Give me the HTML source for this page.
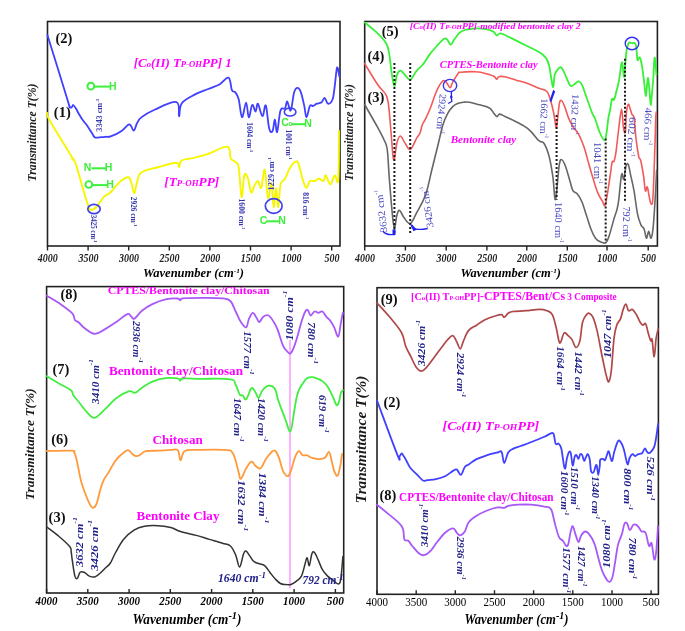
<!DOCTYPE html>
<html><head><meta charset="utf-8"><style>
html,body{margin:0;padding:0;background:#fff;width:685px;height:631px;overflow:hidden}
svg{display:block;filter:blur(0.5px)}
</style></head><body>
<svg width="685" height="631" viewBox="0 0 685 631">
<rect width="685" height="631" fill="#fff"/>
<rect x="47.5" y="21.5" width="292.5" height="224.5" fill="none" stroke="#222" stroke-width="1.6"/>
<path d="M47.5,246 v4.5 M88.1,246 v4.5 M128.7,246 v4.5 M169.3,246 v4.5 M209.9,246 v4.5 M250.5,246 v4.5 M291.1,246 v4.5 M331.7,246 v4.5" stroke="#222" stroke-width="1.4" fill="none"/>
<text x="47.8" y="261.6" font-family='"Liberation Serif", serif' font-size="11.5" font-weight="bold" font-style="italic" fill="#222" text-anchor="middle" textLength="20" lengthAdjust="spacingAndGlyphs">4000</text>
<text x="88.39999999999999" y="261.6" font-family='"Liberation Serif", serif' font-size="11.5" font-weight="bold" font-style="italic" fill="#222" text-anchor="middle" textLength="20" lengthAdjust="spacingAndGlyphs">3500</text>
<text x="129.0" y="261.6" font-family='"Liberation Serif", serif' font-size="11.5" font-weight="bold" font-style="italic" fill="#222" text-anchor="middle" textLength="20" lengthAdjust="spacingAndGlyphs">3000</text>
<text x="169.60000000000002" y="261.6" font-family='"Liberation Serif", serif' font-size="11.5" font-weight="bold" font-style="italic" fill="#222" text-anchor="middle" textLength="20" lengthAdjust="spacingAndGlyphs">2500</text>
<text x="210.20000000000002" y="261.6" font-family='"Liberation Serif", serif' font-size="11.5" font-weight="bold" font-style="italic" fill="#222" text-anchor="middle" textLength="20" lengthAdjust="spacingAndGlyphs">2000</text>
<text x="250.8" y="261.6" font-family='"Liberation Serif", serif' font-size="11.5" font-weight="bold" font-style="italic" fill="#222" text-anchor="middle" textLength="20" lengthAdjust="spacingAndGlyphs">1500</text>
<text x="291.40000000000003" y="261.6" font-family='"Liberation Serif", serif' font-size="11.5" font-weight="bold" font-style="italic" fill="#222" text-anchor="middle" textLength="20" lengthAdjust="spacingAndGlyphs">1000</text>
<text x="332.0" y="261.6" font-family='"Liberation Serif", serif' font-size="11.5" font-weight="bold" font-style="italic" fill="#222" text-anchor="middle" textLength="15" lengthAdjust="spacingAndGlyphs">500</text>
<text x="193.5" y="276.5" font-family='"Liberation Serif", serif' font-size="12" font-weight="bold" font-style="italic" fill="#000" text-anchor="middle" textLength="101" lengthAdjust="spacingAndGlyphs">Wavenumber (cm<tspan font-size="7" dy="-4">-1</tspan><tspan dy="4">)</tspan></text>
<text transform="translate(32,132.5) rotate(-90)" x="0" y="0" dominant-baseline="central" text-anchor="middle" font-family='"Liberation Serif", serif' font-size="12" font-weight="bold" font-style="italic" fill="#222" textLength="98" lengthAdjust="spacingAndGlyphs">Transmittance T(%)</text>
<path d="M47.4,35.0 C51.1,46.8 63.8,87.7 67.7,100.5 C71.6,113.3 68.6,104.7 69.3,106.0 C70.0,107.3 70.9,107.8 71.6,107.6 C72.3,107.4 72.4,104.8 73.2,105.0 C74.0,105.2 75.0,107.0 76.0,108.6 C77.0,110.2 77.6,111.7 78.8,113.8 C80.0,115.9 81.3,118.1 82.7,120.1 C84.1,122.1 85.0,122.5 86.7,124.9 C88.4,127.3 90.8,131.4 92.2,133.6 C93.6,135.8 93.6,136.5 94.6,137.2 C95.6,137.9 95.9,137.7 97.8,137.6 C99.7,137.5 102.7,137.0 105.0,136.8 C107.3,136.6 107.7,137.4 110.7,136.4 C113.7,135.4 118.3,133.2 121.6,131.0 C124.9,128.8 127.1,124.5 129.3,124.4 C131.5,124.3 132.3,130.7 133.7,130.5 C135.1,130.3 135.6,125.7 137.0,123.3 C138.4,120.9 138.2,119.8 141.3,117.4 C144.5,115.0 148.2,112.6 154.5,109.8 C160.8,107.0 172.0,100.9 176.4,102.1 C180.8,103.3 178.0,116.1 179.0,116.3 C180.0,116.5 178.9,107.1 181.8,103.2 C184.7,99.3 190.3,97.0 195.0,94.4 C199.7,91.8 203.7,90.8 208.1,89.0 C212.5,87.2 215.7,86.5 219.4,84.5 C223.1,82.5 226.2,76.7 228.5,77.7 C230.8,78.7 230.7,87.6 231.9,90.2 C233.1,92.8 234.1,90.8 235.3,92.4 C236.5,94.0 237.5,94.7 238.7,99.2 C239.9,103.7 240.7,116.7 242.0,117.3 C243.3,117.9 244.9,102.6 246.1,102.6 C247.3,102.6 247.7,116.9 248.8,117.3 C249.9,117.7 251.0,105.9 252.2,104.9 C253.4,103.9 254.6,111.8 255.6,111.6 C256.6,111.4 256.7,102.9 257.9,103.7 C259.1,104.5 261.0,115.9 262.4,116.2 C263.8,116.5 264.6,103.3 265.8,105.5 C267.0,107.7 268.0,124.0 269.2,128.6 C270.4,133.2 271.6,132.5 272.6,130.9 C273.6,129.3 274.1,119.4 274.9,119.6 C275.7,119.8 276.1,133.6 277.1,132.0 C278.1,130.4 279.1,114.8 280.5,110.5 C281.9,106.2 283.8,109.9 285.0,108.3 C286.2,106.7 286.3,101.1 287.3,101.5 C288.3,101.9 289.5,112.1 290.7,110.5 C291.9,108.9 292.9,96.5 294.1,92.4 C295.3,88.3 296.3,87.9 297.5,87.9 C298.7,87.9 299.7,89.1 300.9,92.4 C302.1,95.7 303.3,101.5 304.3,106.0 C305.3,110.5 305.5,117.3 306.5,117.3 C307.5,117.3 308.7,108.0 309.9,106.0 C311.1,104.0 312.1,106.4 313.3,106.0 C314.5,105.6 315.3,104.3 316.7,103.7 C318.1,103.1 319.9,103.6 321.3,102.6 C322.7,101.6 323.4,97.8 324.6,98.0 C325.8,98.2 326.6,103.5 328.0,103.7 C329.4,103.9 331.4,102.5 332.6,99.2 C333.8,95.9 334.0,91.3 334.8,85.6 C335.6,79.9 336.3,69.1 337.1,67.5 C337.9,65.9 339.0,75.0 339.4,76.6" fill="none" stroke="#4040ff" stroke-width="1.8" stroke-linejoin="round" stroke-linecap="round"/>
<path d="M47.2,113.0 C47.6,114.3 45.1,112.2 49.4,120.0 C53.7,127.8 67.2,149.0 71.3,156.1 C75.4,163.2 71.6,158.0 72.4,159.4 C73.2,160.8 72.9,155.7 75.7,163.8 C78.5,171.9 84.7,196.0 87.7,204.3 C90.7,212.6 90.3,209.5 92.1,209.7 C93.9,209.9 95.4,207.8 97.6,205.4 C99.8,203.0 101.7,199.0 104.1,196.6 C106.5,194.2 107.9,194.8 110.7,192.2 C113.5,189.6 116.3,185.1 119.4,182.4 C122.5,179.7 126.0,177.1 128.2,177.3 C130.4,177.5 130.4,180.6 131.5,183.5 C132.6,186.4 133.3,193.5 134.3,193.3 C135.3,193.1 135.7,186.1 137.0,182.4 C138.3,178.7 137.4,175.3 141.3,172.5 C145.2,169.7 152.6,168.8 158.9,167.0 C165.2,165.2 172.8,162.7 176.4,162.7 C180.0,162.7 178.0,167.4 179.0,167.0 C180.0,166.6 178.9,162.2 181.8,160.5 C184.7,158.8 190.3,158.8 195.0,157.6 C199.7,156.4 202.3,155.9 208.1,153.9 C213.9,151.9 223.2,145.9 227.3,146.7 C231.4,147.5 229.3,155.7 230.7,158.4 C232.1,161.1 233.9,160.2 235.3,161.8 C236.7,163.4 237.6,161.2 238.7,167.5 C239.8,173.8 240.6,195.5 241.6,196.9 C242.6,198.3 243.2,178.9 244.3,175.4 C245.4,171.9 246.5,174.7 247.7,177.7 C248.9,180.7 249.9,190.9 251.1,192.3 C252.3,193.7 253.3,187.6 254.5,185.6 C255.7,183.6 256.7,180.6 257.9,181.0 C259.1,181.4 260.1,189.8 261.3,187.8 C262.5,185.8 263.5,167.9 264.7,169.7 C265.9,171.5 266.9,195.6 268.1,198.0 C269.3,200.4 270.5,181.7 271.5,183.3 C272.5,184.9 272.9,206.2 273.7,207.0 C274.5,207.8 275.2,187.8 276.0,187.8 C276.8,187.8 277.5,207.6 278.3,207.0 C279.1,206.4 279.3,189.5 280.5,184.4 C281.7,179.3 283.4,181.6 285.0,178.8 C286.6,176.0 287.8,171.7 289.6,168.6 C291.4,165.5 293.6,162.6 295.2,161.8 C296.8,161.0 297.2,160.6 298.6,164.1 C300.0,167.6 301.7,176.7 303.1,181.0 C304.5,185.3 305.3,187.8 306.5,187.8 C307.7,187.8 308.5,182.2 309.9,181.0 C311.3,179.8 312.9,181.4 314.5,181.0 C316.1,180.6 317.4,178.8 319.0,178.8 C320.6,178.8 322.3,181.6 323.5,181.0 C324.7,180.4 324.6,174.8 325.8,175.4 C327.0,176.0 328.7,184.4 330.3,184.4 C331.9,184.4 333.4,176.2 334.8,175.4 C336.2,174.6 337.4,187.9 338.2,179.9 C339.0,171.9 338.9,139.8 339.0,131.0" fill="none" stroke="#f6f600" stroke-width="1.9" stroke-linejoin="round" stroke-linecap="round"/>
<text x="55.5" y="43" font-family='"Liberation Serif", serif' font-size="14.5" font-weight="bold" font-style="normal" fill="#111" text-anchor="start" >(2)</text>
<text x="53.8" y="117" font-family='"Liberation Serif", serif' font-size="14.5" font-weight="bold" font-style="normal" fill="#111" text-anchor="start" >(1)</text>
<text x="133.8" y="66.5" font-family='"Liberation Serif", serif' font-size="12" font-weight="bold" font-style="italic" fill="#ff00ff" text-anchor="start" textLength="98" lengthAdjust="spacingAndGlyphs">[C<tspan font-size="8">o</tspan>(II) T<tspan font-size="8">P-OH</tspan>PP] 1</text>
<text x="164.3" y="186" font-family='"Liberation Serif", serif' font-size="12" font-weight="bold" font-style="italic" fill="#ff00ff" text-anchor="start" textLength="55" lengthAdjust="spacingAndGlyphs">[T<tspan font-size="8">P-OH</tspan>PP]</text>
<circle cx="90.8" cy="86.2" r="3.4" fill="none" stroke="#3cf03c" stroke-width="1.9"/>
<line x1="94.3" y1="86.6" x2="109.8" y2="86.6" stroke="#3cf03c" stroke-width="2"/>
<text x="108.9" y="90" font-family='"Liberation Sans", sans-serif' font-size="10.5" font-weight="bold" fill="#3cf03c">H</text>
<text x="83.8" y="171.3" font-family='"Liberation Sans", sans-serif' font-size="10.5" font-weight="bold" fill="#3cf03c">N</text>
<line x1="91.5" y1="168.3" x2="105.8" y2="168.3" stroke="#3cf03c" stroke-width="2"/>
<text x="104.8" y="171.3" font-family='"Liberation Sans", sans-serif' font-size="10.5" font-weight="bold" fill="#3cf03c">H</text>
<circle cx="88.8" cy="184.5" r="3.4" fill="none" stroke="#3cf03c" stroke-width="1.9"/>
<line x1="92.3" y1="185.1" x2="107.5" y2="185.1" stroke="#3cf03c" stroke-width="2"/>
<text x="106.3" y="188.4" font-family='"Liberation Sans", sans-serif' font-size="10.5" font-weight="bold" fill="#3cf03c">H</text>
<text x="281.2" y="126.3" font-family='"Liberation Sans", sans-serif' font-size="10.5" font-weight="bold" fill="#3cf03c">C</text>
<text x="288.4" y="126" font-family='"Liberation Sans", sans-serif' font-size="6.5" font-weight="bold" fill="#3cf03c">o</text>
<line x1="291.5" y1="124.2" x2="305.3" y2="124.2" stroke="#3cf03c" stroke-width="2"/>
<text x="304.2" y="126.5" font-family='"Liberation Sans", sans-serif' font-size="10.5" font-weight="bold" fill="#3cf03c">N</text>
<text x="259.8" y="224.2" font-family='"Liberation Sans", sans-serif' font-size="10.5" font-weight="bold" fill="#3cf03c">C</text>
<line x1="266.2" y1="221.3" x2="279.2" y2="221.3" stroke="#3cf03c" stroke-width="2"/>
<text x="278.3" y="224" font-family='"Liberation Sans", sans-serif' font-size="10.5" font-weight="bold" fill="#3cf03c">N</text>
<ellipse cx="94" cy="209" rx="6.2" ry="4.6" fill="none" stroke="#4040f0" stroke-width="1.7"/>
<ellipse cx="290.1" cy="112" rx="5.8" ry="4" fill="none" stroke="#4040f0" stroke-width="1.6"/>
<ellipse cx="273.7" cy="206" rx="8.4" ry="7.4" fill="none" stroke="#4040f0" stroke-width="1.7"/>
<text transform="translate(99.2,115.2) rotate(-90)" x="0" y="0" dominant-baseline="central" text-anchor="middle" font-family='"Liberation Serif", serif' font-size="7.5" font-weight="bold" font-style="normal" fill="#3535b0" textLength="33" lengthAdjust="spacingAndGlyphs">3343 cm<tspan font-size="4.5" dy="-2.5">-1</tspan></text>
<text transform="translate(93.5,228.7) rotate(90)" x="0" y="0" dominant-baseline="central" text-anchor="middle" font-family='"Liberation Serif", serif' font-size="7.5" font-weight="bold" font-style="normal" fill="#3535b0" textLength="28" lengthAdjust="spacingAndGlyphs">3425 cm<tspan font-size="4.5" dy="-2.5">-1</tspan></text>
<text transform="translate(133.9,211.6) rotate(90)" x="0" y="0" dominant-baseline="central" text-anchor="middle" font-family='"Liberation Serif", serif' font-size="7.5" font-weight="bold" font-style="normal" fill="#3535b0" textLength="29.7" lengthAdjust="spacingAndGlyphs">2926 cm<tspan font-size="4.5" dy="-2.5">-1</tspan></text>
<text transform="translate(249.6,137.3) rotate(90)" x="0" y="0" dominant-baseline="central" text-anchor="middle" font-family='"Liberation Serif", serif' font-size="7.5" font-weight="bold" font-style="normal" fill="#3535b0" textLength="30" lengthAdjust="spacingAndGlyphs">1604 cm<tspan font-size="4.5" dy="-2.5">-1</tspan></text>
<text transform="translate(241.8,214) rotate(90)" x="0" y="0" dominant-baseline="central" text-anchor="middle" font-family='"Liberation Serif", serif' font-size="7.5" font-weight="bold" font-style="normal" fill="#3535b0" textLength="31" lengthAdjust="spacingAndGlyphs">1600 cm<tspan font-size="4.5" dy="-2.5">-1</tspan></text>
<text transform="translate(271.2,173.9) rotate(-90)" x="0" y="0" dominant-baseline="central" text-anchor="middle" font-family='"Liberation Serif", serif' font-size="7.5" font-weight="bold" font-style="normal" fill="#3535b0" textLength="33" lengthAdjust="spacingAndGlyphs">1229 cm<tspan font-size="4.5" dy="-2.5">-1</tspan></text>
<text transform="translate(288.2,144.5) rotate(90)" x="0" y="0" dominant-baseline="central" text-anchor="middle" font-family='"Liberation Serif", serif' font-size="7.5" font-weight="bold" font-style="normal" fill="#3535b0" textLength="30" lengthAdjust="spacingAndGlyphs">1001 cm<tspan font-size="4.5" dy="-2.5">-1</tspan></text>
<text transform="translate(305.6,205.7) rotate(90)" x="0" y="0" dominant-baseline="central" text-anchor="middle" font-family='"Liberation Serif", serif' font-size="7.5" font-weight="bold" font-style="normal" fill="#3535b0" textLength="27" lengthAdjust="spacingAndGlyphs">816 cm<tspan font-size="4.5" dy="-2.5">-1</tspan></text>
<rect x="364.7" y="21.5" width="292.7" height="224.5" fill="none" stroke="#222" stroke-width="1.6"/>
<path d="M364.7,246 v4.5 M405.4,246 v4.5 M446.2,246 v4.5 M486.9,246 v4.5 M526.8,246 v4.5 M567.3,246 v4.5 M607.0,246 v4.5 M648.2,246 v4.5" stroke="#222" stroke-width="1.4" fill="none"/>
<text x="365.0" y="261.6" font-family='"Liberation Serif", serif' font-size="11.5" font-weight="bold" font-style="italic" fill="#222" text-anchor="middle" textLength="20" lengthAdjust="spacingAndGlyphs">4000</text>
<text x="405.7" y="261.6" font-family='"Liberation Serif", serif' font-size="11.5" font-weight="bold" font-style="italic" fill="#222" text-anchor="middle" textLength="20" lengthAdjust="spacingAndGlyphs">3500</text>
<text x="446.5" y="261.6" font-family='"Liberation Serif", serif' font-size="11.5" font-weight="bold" font-style="italic" fill="#222" text-anchor="middle" textLength="20" lengthAdjust="spacingAndGlyphs">3000</text>
<text x="487.2" y="261.6" font-family='"Liberation Serif", serif' font-size="11.5" font-weight="bold" font-style="italic" fill="#222" text-anchor="middle" textLength="20" lengthAdjust="spacingAndGlyphs">2500</text>
<text x="527.0999999999999" y="261.6" font-family='"Liberation Serif", serif' font-size="11.5" font-weight="bold" font-style="italic" fill="#222" text-anchor="middle" textLength="20" lengthAdjust="spacingAndGlyphs">2000</text>
<text x="567.5999999999999" y="261.6" font-family='"Liberation Serif", serif' font-size="11.5" font-weight="bold" font-style="italic" fill="#222" text-anchor="middle" textLength="20" lengthAdjust="spacingAndGlyphs">1500</text>
<text x="607.3" y="261.6" font-family='"Liberation Serif", serif' font-size="11.5" font-weight="bold" font-style="italic" fill="#222" text-anchor="middle" textLength="20" lengthAdjust="spacingAndGlyphs">1000</text>
<text x="648.5" y="261.6" font-family='"Liberation Serif", serif' font-size="11.5" font-weight="bold" font-style="italic" fill="#222" text-anchor="middle" textLength="15" lengthAdjust="spacingAndGlyphs">500</text>
<text x="510.7" y="277" font-family='"Liberation Serif", serif' font-size="12" font-weight="bold" font-style="italic" fill="#000" text-anchor="middle" textLength="100.6" lengthAdjust="spacingAndGlyphs">Wavenumber (cm<tspan font-size="7" dy="-4">-1</tspan><tspan dy="4">)</tspan></text>
<text transform="translate(349.2,132.6) rotate(-90)" x="0" y="0" dominant-baseline="central" text-anchor="middle" font-family='"Liberation Serif", serif' font-size="12" font-weight="bold" font-style="italic" fill="#222" textLength="97" lengthAdjust="spacingAndGlyphs">Transmittance T(%)</text>
<path d="M364.6,104.5 C367.0,108.7 374.3,121.2 377.8,127.6 C381.3,134.0 382.5,136.2 384.2,140.2 C385.9,144.2 386.4,142.9 387.3,150.0 C388.2,157.1 388.5,168.4 389.4,179.7 C390.3,191.0 391.3,203.9 392.2,212.6 C393.1,221.3 393.5,227.5 394.4,227.9 C395.3,228.3 396.0,218.0 397.0,214.8 C398.0,211.7 398.5,210.0 399.7,210.4 C400.9,210.8 401.7,214.6 403.6,217.0 C405.5,219.4 407.8,224.3 410.2,223.5 C412.6,222.7 413.9,217.7 416.7,212.6 C419.5,207.5 422.7,202.9 425.5,195.0 C428.3,187.1 429.7,178.2 432.1,168.8 C434.5,159.4 436.7,150.3 438.6,142.5 C440.5,134.7 441.2,130.5 442.7,125.4 C444.2,120.3 445.4,117.7 447.2,114.3 C449.0,110.9 450.7,108.6 452.7,106.6 C454.7,104.6 456.3,104.1 458.3,103.3 C460.3,102.5 461.8,102.4 463.8,102.2 C465.8,102.0 466.7,101.8 469.3,102.2 C471.9,102.6 474.5,103.5 478.0,104.5 C481.5,105.5 486.0,106.1 489.0,107.8 C492.0,109.5 493.1,112.5 494.5,114.1 C495.9,115.7 496.1,116.6 497.0,116.6 C497.9,116.6 498.2,114.1 499.6,114.1 C501.0,114.1 502.0,115.1 505.0,116.5 C508.0,117.9 511.7,119.4 516.0,121.7 C520.3,124.0 524.6,125.9 528.7,129.3 C532.8,132.7 536.2,138.2 538.9,140.7 C541.6,143.2 542.1,140.5 543.9,143.2 C545.7,145.9 547.4,150.0 549.0,155.9 C550.6,161.8 551.6,168.4 552.8,176.2 C554.0,184.0 554.4,201.3 555.5,199.5 C556.6,197.7 558.0,173.2 559.1,166.0 C560.2,158.8 560.6,159.7 561.7,159.7 C562.8,159.7 563.9,162.1 565.4,166.0 C566.9,169.9 568.6,176.8 570.0,181.2 C571.4,185.6 571.6,188.4 572.9,190.7 C574.2,193.0 575.8,192.1 577.4,194.1 C579.0,196.1 580.4,198.1 582.0,202.0 C583.6,205.9 584.9,210.7 586.5,215.6 C588.1,220.5 589.4,225.1 591.0,229.2 C592.6,233.3 593.9,236.0 595.5,238.2 C597.1,240.4 598.2,240.8 600.0,241.6 C601.8,242.4 604.1,243.8 605.7,242.8 C607.3,241.8 607.7,240.1 609.1,236.0 C610.5,231.9 612.0,225.8 613.6,220.1 C615.2,214.4 616.7,212.5 618.1,204.3 C619.5,196.1 620.5,179.3 621.5,174.8 C622.5,170.3 623.0,180.9 623.8,179.3 C624.6,177.7 625.3,168.4 626.1,165.8 C626.9,163.2 627.5,163.0 628.3,164.6 C629.1,166.2 629.6,170.1 630.6,174.8 C631.6,179.5 632.8,183.8 634.0,190.7 C635.2,197.6 636.2,207.2 637.4,213.3 C638.6,219.4 639.6,221.7 640.8,224.6 C642.0,227.5 643.2,226.8 644.2,229.2 C645.2,231.6 645.6,237.8 646.4,238.2 C647.2,238.6 647.9,231.4 648.7,231.4 C649.5,231.4 650.2,239.0 651.0,238.2 C651.8,237.4 652.4,235.1 653.2,226.9 C654.0,218.7 654.9,203.1 655.5,192.9 C656.1,182.7 656.4,174.4 656.6,170.3" fill="none" stroke="#666" stroke-width="1.6" stroke-linejoin="round" stroke-linecap="round"/>
<path d="M364.6,63.5 C367.0,67.3 374.0,79.3 377.8,84.8 C381.6,90.3 383.8,91.2 385.7,94.3 C387.6,97.4 387.4,98.2 388.1,102.2 C388.8,106.2 389.1,110.5 389.7,116.5 C390.3,122.5 390.6,127.7 391.3,135.5 C392.0,143.3 392.7,158.7 393.7,160.0 C394.7,161.3 395.8,146.8 397.0,142.5 C398.2,138.2 398.9,136.0 400.3,136.0 C401.7,136.0 402.9,140.1 404.7,142.5 C406.5,144.9 408.0,150.3 410.2,149.5 C412.4,148.7 414.9,141.1 416.7,138.1 C418.5,135.1 419.0,135.4 420.0,133.0 C421.0,130.6 421.3,127.4 422.2,125.0 C423.1,122.6 423.5,123.0 425.0,119.9 C426.5,116.8 428.5,112.7 430.5,107.7 C432.5,102.7 434.1,96.8 436.1,92.2 C438.1,87.6 439.9,84.2 441.6,82.2 C443.3,80.2 444.0,80.1 445.5,81.1 C447.0,82.1 448.7,87.5 450.0,87.7 C451.3,87.9 451.2,84.8 452.7,82.2 C454.2,79.6 456.9,75.1 458.3,73.3 C459.7,71.5 457.5,72.5 460.5,72.2 C463.5,71.9 471.1,71.6 475.0,71.7 C478.9,71.8 479.1,71.9 482.4,72.7 C485.7,73.5 490.8,74.8 493.4,76.0 C496.0,77.2 495.7,79.2 496.7,79.3 C497.7,79.4 497.3,77.2 498.8,76.7 C500.3,76.2 501.9,76.2 505.0,76.8 C508.1,77.4 512.2,79.0 516.3,80.2 C520.4,81.4 523.5,82.2 527.6,83.6 C531.7,85.0 535.5,86.8 539.0,88.2 C542.5,89.6 544.9,89.5 546.9,91.5 C548.9,93.5 549.1,95.6 550.3,99.5 C551.5,103.4 552.7,108.0 553.7,113.0 C554.7,118.0 555.4,124.9 556.0,127.0 C556.6,129.1 556.4,128.5 557.0,124.4 C557.6,120.3 558.5,108.3 559.3,104.0 C560.1,99.7 560.6,100.0 561.6,100.6 C562.6,101.2 563.8,104.3 565.0,107.4 C566.2,110.5 567.0,114.1 568.4,117.6 C569.8,121.1 571.7,124.5 572.9,126.6 C574.1,128.7 574.0,127.8 575.2,129.5 C576.4,131.2 578.1,133.0 579.7,136.3 C581.3,139.6 582.6,142.7 584.2,147.6 C585.8,152.5 587.1,157.8 588.7,163.5 C590.3,169.2 591.7,174.0 593.3,179.3 C594.9,184.6 596.2,189.0 597.8,192.9 C599.4,196.8 600.9,198.9 602.3,200.9 C603.7,202.9 604.1,208.6 605.5,204.0 C606.9,199.4 609.0,183.0 610.2,175.5 C611.4,168.0 611.4,164.8 612.1,162.2 C612.8,159.6 613.3,163.0 614.0,161.3 C614.7,159.6 615.0,158.7 615.9,152.7 C616.8,146.7 617.8,135.9 618.8,128.0 C619.8,120.1 620.8,109.0 621.6,109.0 C622.4,109.0 622.8,123.9 623.5,128.0 C624.2,132.1 624.9,134.5 625.4,131.8 C625.9,129.1 625.9,117.8 626.4,112.8 C626.9,107.8 627.6,105.0 628.3,104.3 C629.0,103.6 629.5,107.1 630.2,109.0 C630.9,110.9 631.4,113.2 632.1,114.7 C632.8,116.2 633.3,113.5 634.0,117.6 C634.7,121.7 635.1,130.5 635.9,137.5 C636.7,144.5 637.9,152.4 638.7,156.5 C639.5,160.6 639.7,156.9 640.6,160.3 C641.5,163.7 642.6,170.0 643.5,175.5 C644.4,181.0 644.7,188.7 645.4,190.8 C646.1,192.9 646.6,186.0 647.3,187.0 C648.0,188.0 648.5,193.4 649.2,196.5 C649.9,199.6 650.4,204.0 651.1,204.0 C651.8,204.0 652.3,206.8 653.0,196.5 C653.7,186.2 654.4,161.2 654.9,147.0 C655.4,132.8 655.5,123.9 655.8,117.6 C656.1,111.3 656.2,113.0 656.3,112.0" fill="none" stroke="#f25a5a" stroke-width="1.6" stroke-linejoin="round" stroke-linecap="round"/>
<path d="M364.6,22.4 C366.5,24.0 371.2,27.4 375.1,31.1 C379.0,34.8 383.5,38.9 386.1,43.2 C388.7,47.5 388.4,49.9 389.4,55.2 C390.4,60.5 390.7,67.2 391.6,72.7 C392.5,78.2 393.4,85.5 394.4,85.9 C395.4,86.3 395.9,77.7 397.0,74.9 C398.1,72.1 398.9,70.7 400.3,70.6 C401.7,70.5 402.9,72.9 404.7,74.5 C406.5,76.1 408.0,80.4 410.2,79.7 C412.4,79.0 414.3,73.4 416.7,70.6 C419.1,67.8 420.9,67.0 423.3,64.0 C425.7,61.0 427.5,57.2 429.9,54.1 C432.3,51.0 433.8,49.3 436.4,46.5 C439.0,43.7 442.1,40.0 444.1,38.8 C446.1,37.6 446.2,38.8 447.4,39.9 C448.6,41.0 449.5,44.7 450.7,44.7 C451.9,44.7 452.4,42.0 454.0,39.9 C455.6,37.8 457.4,34.7 459.4,32.9 C461.4,31.1 462.3,30.8 464.9,30.0 C467.5,29.2 470.2,28.7 473.7,28.5 C477.2,28.3 481.1,28.3 484.6,28.9 C488.1,29.5 491.2,30.4 493.4,31.6 C495.6,32.8 495.5,35.2 496.7,35.5 C497.9,35.8 498.5,33.4 500.0,33.3 C501.5,33.2 502.1,33.7 505.0,35.0 C507.9,36.3 512.2,38.6 516.3,40.6 C520.4,42.6 523.5,44.2 527.6,46.3 C531.7,48.4 535.7,50.0 539.0,52.0 C542.3,54.0 543.9,55.2 545.7,57.6 C547.5,60.0 548.1,61.6 549.1,65.5 C550.1,69.4 550.7,75.2 551.4,79.1 C552.1,83.0 552.6,87.8 553.2,87.0 C553.8,86.2 553.9,77.9 554.8,74.6 C555.7,71.3 557.0,70.1 558.2,68.9 C559.4,67.7 560.2,66.4 561.6,67.8 C563.0,69.2 564.5,73.5 566.1,76.8 C567.7,80.1 569.0,84.7 570.6,85.9 C572.2,87.1 573.8,84.4 575.2,83.6 C576.6,82.8 577.3,81.2 578.5,81.4 C579.7,81.6 580.6,82.0 582.0,84.8 C583.4,87.6 584.7,92.1 586.5,97.2 C588.3,102.3 590.6,109.2 592.1,113.0 C593.6,116.8 593.6,114.9 595.0,118.5 C596.4,122.1 598.3,129.1 600.0,133.0 C601.7,136.9 603.3,140.4 604.5,140.4 C605.7,140.4 605.8,136.9 606.5,133.0 C607.2,129.1 607.7,122.6 608.3,118.5 C608.9,114.4 609.4,113.5 610.1,110.0 C610.8,106.5 611.3,100.9 612.0,99.1 C612.7,97.3 613.3,100.8 614.0,99.8 C614.7,98.8 615.0,96.8 615.9,93.4 C616.8,90.0 618.0,86.2 619.0,80.7 C620.0,75.2 620.9,65.5 621.6,63.0 C622.3,60.5 622.3,64.3 622.8,66.8 C623.2,69.3 623.6,77.6 624.1,76.9 C624.6,76.2 624.9,67.8 625.4,63.0 C625.9,58.2 626.0,53.8 626.6,50.3 C627.2,46.8 627.8,44.7 628.5,43.3 C629.2,41.9 629.7,42.7 630.4,42.7 C631.1,42.7 631.6,43.3 632.3,43.3 C633.0,43.3 633.6,42.1 634.3,42.7 C635.0,43.3 635.6,43.4 636.2,46.5 C636.8,49.6 636.8,57.9 637.4,59.8 C638.0,61.7 638.7,57.4 639.3,57.3 C639.9,57.2 640.0,57.0 640.6,59.2 C641.2,61.4 641.8,64.7 642.5,69.3 C643.2,73.9 643.8,79.7 644.4,84.5 C645.0,89.3 645.4,96.2 645.9,96.0 C646.4,95.8 646.8,86.5 647.2,83.3 C647.6,80.1 647.8,76.8 648.2,78.2 C648.6,79.6 649.0,86.1 649.5,90.9 C650.0,95.7 650.2,104.3 650.7,104.8 C651.2,105.2 651.5,98.2 652.0,93.4 C652.5,88.6 652.8,84.6 653.3,78.2 C653.8,71.8 654.0,60.0 654.5,57.9 C655.0,55.8 655.5,63.8 655.8,66.8 C656.1,69.8 656.3,73.0 656.4,74.4" fill="none" stroke="#38f038" stroke-width="1.8" stroke-linejoin="round" stroke-linecap="round"/>
<line x1="394.4" y1="63" x2="394.4" y2="234.5" stroke="#1a1a1a" stroke-width="2" stroke-dasharray="2,2"/>
<line x1="410.2" y1="63" x2="410.2" y2="234.5" stroke="#1a1a1a" stroke-width="2" stroke-dasharray="2,2"/>
<line x1="556.6" y1="115" x2="556.6" y2="199.7" stroke="#1a1a1a" stroke-width="2" stroke-dasharray="2,2"/>
<line x1="605.7" y1="138.6" x2="605.7" y2="242.8" stroke="#1a1a1a" stroke-width="2" stroke-dasharray="2,2"/>
<line x1="625" y1="58.7" x2="625" y2="202" stroke="#1a1a1a" stroke-width="2" stroke-dasharray="2,2"/>
<text x="381.7" y="36" font-family='"Liberation Serif", serif' font-size="14.5" font-weight="bold" font-style="normal" fill="#111" text-anchor="start" >(5)</text>
<text x="367.5" y="61" font-family='"Liberation Serif", serif' font-size="14.5" font-weight="bold" font-style="normal" fill="#111" text-anchor="start" >(4)</text>
<text x="367.5" y="102" font-family='"Liberation Serif", serif' font-size="14.5" font-weight="bold" font-style="normal" fill="#111" text-anchor="start" >(3)</text>
<text x="409.7" y="28.8" font-family='"Liberation Serif", serif' font-size="8.5" font-weight="bold" font-style="italic" fill="#ff00ff" text-anchor="start" textLength="171" lengthAdjust="spacingAndGlyphs">[C<tspan font-size="6">o</tspan>(II) T<tspan font-size="6">P-OH</tspan>PP]-modified bentonite clay 2</text>
<text x="439.7" y="68" font-family='"Liberation Serif", serif' font-size="10" font-weight="bold" font-style="italic" fill="#ff00ff" text-anchor="start" textLength="98" lengthAdjust="spacingAndGlyphs">CPTES-Bentonite clay</text>
<text x="450.7" y="143" font-family='"Liberation Serif", serif' font-size="10" font-weight="bold" font-style="italic" fill="#ff00ff" text-anchor="start" textLength="65.5" lengthAdjust="spacingAndGlyphs">Bentonite clay</text>
<ellipse cx="450" cy="85.5" rx="6.7" ry="6.1" fill="none" stroke="#3333ee" stroke-width="1.4"/>
<ellipse cx="632" cy="43.5" rx="6.8" ry="6.2" fill="none" stroke="#3333ee" stroke-width="1.4"/>
<text transform="translate(441.5,114) rotate(95)" x="0" y="0" dominant-baseline="central" text-anchor="middle" font-family='"Liberation Serif", serif' font-size="10" font-weight="normal" font-style="normal" fill="#4646c0" textLength="40" lengthAdjust="spacingAndGlyphs">2924 cm<tspan font-size="5.5" dy="-3.5">-1</tspan></text>
<text transform="translate(381.2,211) rotate(-97)" x="0" y="0" dominant-baseline="central" text-anchor="middle" font-family='"Liberation Serif", serif' font-size="10" font-weight="normal" font-style="normal" fill="#4646c0" textLength="43" lengthAdjust="spacingAndGlyphs">3632 cm<tspan font-size="5.5" dy="-3.5">-1</tspan></text>
<text transform="translate(427.2,207) rotate(-98)" x="0" y="0" dominant-baseline="central" text-anchor="middle" font-family='"Liberation Serif", serif' font-size="10" font-weight="normal" font-style="normal" fill="#4646c0" textLength="42" lengthAdjust="spacingAndGlyphs">3426 cm<tspan font-size="5.5" dy="-3.5">-1</tspan></text>
<text transform="translate(544,118.4) rotate(92)" x="0" y="0" dominant-baseline="central" text-anchor="middle" font-family='"Liberation Serif", serif' font-size="10" font-weight="normal" font-style="normal" fill="#4646c0" textLength="40" lengthAdjust="spacingAndGlyphs">1662 cm<tspan font-size="5.5" dy="-3.5">-1</tspan></text>
<text transform="translate(575,114.6) rotate(92)" x="0" y="0" dominant-baseline="central" text-anchor="middle" font-family='"Liberation Serif", serif' font-size="10" font-weight="normal" font-style="normal" fill="#4646c0" textLength="41" lengthAdjust="spacingAndGlyphs">1432 cm<tspan font-size="5.5" dy="-3.5">-1</tspan></text>
<text transform="translate(648,126.5) rotate(92)" x="0" y="0" dominant-baseline="central" text-anchor="middle" font-family='"Liberation Serif", serif' font-size="10" font-weight="normal" font-style="normal" fill="#4646c0" textLength="38" lengthAdjust="spacingAndGlyphs">466 cm<tspan font-size="5.5" dy="-3.5">-1</tspan></text>
<text transform="translate(558.8,222.4) rotate(90)" x="0" y="0" dominant-baseline="central" text-anchor="middle" font-family='"Liberation Serif", serif' font-size="10" font-weight="normal" font-style="normal" fill="#4646c0" textLength="40.8" lengthAdjust="spacingAndGlyphs">1640 cm<tspan font-size="5.5" dy="-3.5">-1</tspan></text>
<text transform="translate(597.8,163) rotate(90)" x="0" y="0" dominant-baseline="central" text-anchor="middle" font-family='"Liberation Serif", serif' font-size="10" font-weight="normal" font-style="normal" fill="#4646c0" textLength="42" lengthAdjust="spacingAndGlyphs">1041 cm<tspan font-size="5.5" dy="-3.5">-1</tspan></text>
<text transform="translate(626,224) rotate(90)" x="0" y="0" dominant-baseline="central" text-anchor="middle" font-family='"Liberation Serif", serif' font-size="10" font-weight="normal" font-style="normal" fill="#4646c0" textLength="35" lengthAdjust="spacingAndGlyphs">792 cm<tspan font-size="5.5" dy="-3.5">-1</tspan></text>
<text transform="translate(631.5,137) rotate(94)" x="0" y="0" dominant-baseline="central" text-anchor="middle" font-family='"Liberation Serif", serif' font-size="10" font-weight="normal" font-style="normal" fill="#4646c0" textLength="40" lengthAdjust="spacingAndGlyphs">602 cm<tspan font-size="5.5" dy="-3.5">-1</tspan></text>
<path d="M382.8,231 Q386,235.5 394.8,234.5" fill="none" stroke="#2222ee" stroke-width="1.3"/>
<path d="M392.5,229.5 L395.5,229 L395.5,235 L392.5,235 Z" fill="#2222ee"/>
<path d="M412.4,226.8 Q416,231 427.7,228.5" fill="none" stroke="#2222ee" stroke-width="1.3"/>
<path d="M410,224.3 L412.5,224.8 L416.5,229.8 L413.5,231.2 Z" fill="#2222ee"/>
<path d="M451.4,91.5 L451.4,98 L451.8,101.5 L448.2,103.5" fill="none" stroke="#2222ee" stroke-width="1.3"/>
<ellipse cx="451.3" cy="97" rx="1.2" ry="1.8" fill="#2222ee"/>
<path d="M553.2,89.8 L555.2,91.6 L551.2,102.2 L549.6,100.6 Z" fill="#2222ee"/>
<rect x="46.6" y="286.6" width="297.09999999999997" height="306.4" fill="none" stroke="#222" stroke-width="1.6"/>
<path d="M46.6,593 v-4 M87.8,593 v-4 M129.1,593 v-4 M170.3,593 v-4 M211.6,593 v-4 M252.8,593 v-4 M294.1,593 v-4 M335.4,593 v-4" stroke="#222" stroke-width="1.4" fill="none"/>
<text x="46.6" y="605" font-family='"Liberation Serif", serif' font-size="11.5" font-weight="bold" font-style="italic" fill="#000" text-anchor="middle" textLength="22" lengthAdjust="spacingAndGlyphs">4000</text>
<text x="87.85" y="605" font-family='"Liberation Serif", serif' font-size="11.5" font-weight="bold" font-style="italic" fill="#000" text-anchor="middle" textLength="22" lengthAdjust="spacingAndGlyphs">3500</text>
<text x="129.1" y="605" font-family='"Liberation Serif", serif' font-size="11.5" font-weight="bold" font-style="italic" fill="#000" text-anchor="middle" textLength="22" lengthAdjust="spacingAndGlyphs">3000</text>
<text x="170.35" y="605" font-family='"Liberation Serif", serif' font-size="11.5" font-weight="bold" font-style="italic" fill="#000" text-anchor="middle" textLength="22" lengthAdjust="spacingAndGlyphs">2500</text>
<text x="211.6" y="605" font-family='"Liberation Serif", serif' font-size="11.5" font-weight="bold" font-style="italic" fill="#000" text-anchor="middle" textLength="22" lengthAdjust="spacingAndGlyphs">2000</text>
<text x="252.85" y="605" font-family='"Liberation Serif", serif' font-size="11.5" font-weight="bold" font-style="italic" fill="#000" text-anchor="middle" textLength="22" lengthAdjust="spacingAndGlyphs">1500</text>
<text x="294.1" y="605" font-family='"Liberation Serif", serif' font-size="11.5" font-weight="bold" font-style="italic" fill="#000" text-anchor="middle" textLength="22" lengthAdjust="spacingAndGlyphs">1000</text>
<text x="335.35" y="605" font-family='"Liberation Serif", serif' font-size="11.5" font-weight="bold" font-style="italic" fill="#000" text-anchor="middle" textLength="17" lengthAdjust="spacingAndGlyphs">500</text>
<text x="187" y="624" font-family='"Liberation Serif", serif' font-size="14" font-weight="bold" font-style="italic" fill="#000" text-anchor="middle" textLength="109" lengthAdjust="spacingAndGlyphs">Wavenumber (cm<tspan font-size="11" dy="-5">-1</tspan><tspan dy="5">)</tspan></text>
<text transform="translate(29.3,444.2) rotate(-90)" x="0" y="0" dominant-baseline="central" text-anchor="middle" font-family='"Liberation Serif", serif' font-size="13.5" font-weight="bold" font-style="italic" fill="#1a1a1a" textLength="112" lengthAdjust="spacingAndGlyphs">Transmittance T(%)</text>
<line x1="290" y1="340" x2="290" y2="588.5" stroke="#ff88ff" stroke-width="1.3"/>
<path d="M46.8,295.7 C49.2,297.2 55.8,300.9 60.4,304.1 C65.0,307.3 69.7,310.5 72.3,313.3 C74.9,316.1 73.7,318.2 74.9,319.9 C76.1,321.6 77.1,321.1 78.8,322.5 C80.5,323.9 81.3,325.8 84.1,327.8 C86.9,329.8 90.8,333.6 94.6,333.8 C98.4,334.0 101.3,331.1 105.1,329.1 C108.9,327.1 111.6,325.2 115.6,322.5 C119.6,319.8 124.6,315.1 127.4,314.1 C130.2,313.1 130.1,316.0 131.4,316.8 C132.7,317.6 132.6,319.7 134.5,318.6 C136.4,317.5 138.7,313.3 141.9,310.7 C145.1,308.1 148.2,306.1 152.4,304.1 C156.6,302.1 161.0,300.4 165.5,299.4 C170.0,298.4 174.9,298.3 177.5,298.5 C180.1,298.7 179.2,300.3 180.2,300.3 C181.2,300.3 179.2,298.8 183.0,298.4 C186.8,298.0 194.4,297.9 201.5,297.9 C208.6,297.9 217.3,297.8 222.5,298.4 C227.7,299.0 228.0,298.6 230.4,301.0 C232.8,303.4 233.8,307.7 235.7,311.5 C237.6,315.3 239.0,319.2 240.9,322.0 C242.8,324.8 244.8,327.8 246.2,327.3 C247.6,326.8 247.6,322.0 248.8,319.4 C250.0,316.8 251.4,313.0 252.8,312.8 C254.2,312.6 255.5,316.4 256.7,318.1 C257.9,319.8 258.1,322.2 259.3,322.0 C260.5,321.8 261.6,318.0 263.3,316.8 C265.0,315.6 266.6,314.6 268.5,315.5 C270.4,316.4 272.1,319.4 273.8,322.0 C275.5,324.6 276.0,325.6 277.7,329.9 C279.4,334.2 281.3,341.9 283.0,345.7 C284.7,349.5 285.6,349.6 286.9,351.0 C288.2,352.4 289.1,354.1 290.3,353.6 C291.5,353.1 292.2,351.4 293.5,348.3 C294.8,345.2 296.0,341.2 297.4,336.5 C298.8,331.8 300.0,326.5 301.4,322.0 C302.8,317.5 304.1,313.6 305.3,311.5 C306.5,309.4 306.9,309.5 307.9,310.2 C308.9,310.9 309.4,315.3 310.6,315.5 C311.8,315.7 313.1,312.0 314.5,311.5 C315.9,311.0 317.0,312.8 318.4,312.8 C319.8,312.8 321.0,310.8 322.4,311.5 C323.8,312.2 324.9,315.1 326.3,316.8 C327.7,318.5 328.9,318.8 330.3,320.7 C331.7,322.6 332.8,324.5 334.2,327.3 C335.6,330.1 337.0,337.2 338.2,336.5 C339.4,335.8 340.0,327.6 340.8,323.3 C341.6,319.0 342.5,314.7 342.9,312.8" fill="none" stroke="#a858f8" stroke-width="1.8" stroke-linejoin="round" stroke-linecap="round"/>
<path d="M46.8,376.3 C48.9,377.5 54.2,380.7 58.5,383.2 C62.8,385.7 68.0,387.8 70.7,390.0 C73.4,392.2 72.0,393.3 73.5,395.5 C75.0,397.7 76.4,399.1 78.8,402.0 C81.2,404.9 83.9,409.0 86.7,411.8 C89.5,414.6 91.3,418.3 94.6,417.8 C97.9,417.3 101.3,412.6 105.1,409.2 C108.9,405.8 111.4,401.9 115.6,398.7 C119.8,395.5 125.2,392.5 128.7,391.4 C132.2,390.3 132.9,393.4 135.3,392.7 C137.7,392.0 138.8,389.7 141.9,387.7 C145.0,385.7 148.2,383.3 152.4,381.6 C156.6,379.9 161.0,378.8 165.5,378.2 C170.0,377.6 174.9,378.0 177.5,378.4 C180.1,378.8 179.2,380.6 180.2,380.6 C181.2,380.6 179.2,378.8 183.0,378.5 C186.8,378.2 193.0,378.7 201.5,378.8 C210.0,378.9 224.2,378.2 230.4,379.3 C236.6,380.4 234.0,382.4 235.7,385.1 C237.4,387.8 238.5,392.7 239.7,394.5 C240.9,396.3 241.4,394.5 242.6,395.3 C243.8,396.1 244.6,400.5 246.2,399.2 C247.8,397.9 249.8,389.7 251.4,388.3 C253.0,386.9 253.7,389.8 255.0,391.5 C256.3,393.2 257.4,398.0 258.7,397.8 C260.0,397.6 260.5,392.7 262.3,390.5 C264.1,388.3 266.7,386.0 268.9,385.7 C271.1,385.4 273.1,386.1 274.7,388.6 C276.3,391.1 276.9,396.1 278.0,399.6 C279.1,403.1 279.6,404.3 281.0,408.0 C282.4,411.7 283.9,415.8 285.6,420.0 C287.3,424.2 288.9,432.3 290.3,431.5 C291.7,430.7 292.5,421.5 293.5,415.8 C294.5,410.1 295.2,404.6 296.1,400.0 C297.0,395.4 297.5,393.2 298.7,390.3 C299.9,387.4 301.3,385.9 302.7,383.8 C304.1,381.7 304.9,379.7 306.6,378.5 C308.3,377.3 310.0,377.2 311.9,377.2 C313.8,377.2 315.2,377.8 317.1,378.5 C319.0,379.2 320.5,379.7 322.4,381.1 C324.3,382.5 325.7,383.6 327.6,386.4 C329.5,389.2 331.2,393.5 332.9,396.9 C334.6,400.3 335.6,404.7 336.8,405.3 C338.0,405.9 338.8,402.2 339.5,400.0 C340.2,397.8 340.2,394.7 340.8,393.0 C341.4,391.3 342.5,390.8 342.9,390.3" fill="none" stroke="#40ee40" stroke-width="1.8" stroke-linejoin="round" stroke-linecap="round"/>
<path d="M46.8,451.0 C51.3,450.9 67.1,450.3 72.0,450.6 C76.9,450.9 73.4,451.8 74.0,452.5 C74.6,453.2 74.6,452.6 75.2,454.6 C75.8,456.6 76.4,458.7 77.4,463.4 C78.4,468.1 79.6,475.4 81.0,480.9 C82.4,486.4 83.8,489.8 85.4,494.0 C87.0,498.2 88.5,501.7 89.8,504.2 C91.1,506.7 91.5,507.9 92.7,507.9 C93.9,507.9 95.0,507.7 96.4,504.2 C97.8,500.7 99.3,492.8 100.7,488.2 C102.1,483.6 102.9,481.6 104.4,478.7 C105.9,475.8 107.0,475.1 108.8,472.1 C110.6,469.1 112.5,464.9 114.6,461.9 C116.7,458.9 118.1,457.4 120.5,455.3 C122.9,453.2 125.7,450.5 127.8,450.2 C129.9,449.9 130.7,452.8 132.1,453.9 C133.5,455.0 134.5,455.8 135.8,456.1 C137.1,456.4 137.6,456.2 139.4,455.3 C141.2,454.4 142.5,452.0 145.8,451.2 C149.1,450.4 153.1,450.9 157.6,450.7 C162.1,450.5 167.1,450.0 170.8,449.9 C174.5,449.8 176.2,448.5 177.9,450.4 C179.6,452.3 179.3,460.3 180.5,460.4 C181.7,460.5 181.7,453.1 184.5,451.2 C187.3,449.3 189.0,450.1 196.3,449.9 C203.6,449.7 218.6,449.2 225.2,449.9 C231.8,450.6 230.7,450.0 233.1,453.8 C235.5,457.6 236.9,466.4 238.3,470.9 C239.7,475.4 239.5,479.3 240.9,478.8 C242.3,478.3 244.3,471.4 246.2,468.3 C248.1,465.2 249.8,462.2 251.5,461.7 C253.2,461.2 253.8,464.5 255.4,465.7 C257.0,466.9 258.7,469.5 260.6,468.3 C262.5,467.1 264.0,461.9 265.9,459.1 C267.8,456.3 269.5,454.0 271.2,452.5 C272.9,451.0 273.7,449.7 275.1,450.7 C276.5,451.7 277.6,454.2 279.0,457.8 C280.4,461.4 281.4,467.6 283.0,470.9 C284.6,474.2 286.3,476.2 287.7,476.2 C289.1,476.2 289.6,474.2 290.9,470.9 C292.2,467.6 293.4,461.3 294.8,457.8 C296.2,454.3 297.3,451.7 298.7,451.2 C300.1,450.7 301.3,454.5 302.7,455.2 C304.1,455.9 304.9,454.7 306.6,455.2 C308.3,455.7 309.5,457.1 311.9,457.8 C314.3,458.5 317.4,459.1 319.8,459.1 C322.2,459.1 323.3,459.1 325.0,457.8 C326.7,456.5 327.8,451.5 329.0,452.0 C330.2,452.5 330.7,457.0 331.6,460.4 C332.5,463.8 333.1,468.1 334.2,470.9 C335.3,473.7 336.5,476.6 337.6,475.7 C338.7,474.8 339.5,469.6 340.3,465.7 C341.1,461.8 341.8,455.9 342.1,453.8" fill="none" stroke="#ff9a3a" stroke-width="1.8" stroke-linejoin="round" stroke-linecap="round"/>
<path d="M46.8,527.0 C48.8,528.5 53.7,531.9 57.8,535.4 C61.9,538.9 67.3,543.5 69.7,546.5 C72.1,549.5 70.7,549.5 71.2,552.0 C71.7,554.5 71.6,556.1 72.3,560.4 C73.0,564.7 74.0,572.9 74.9,576.1 C75.8,579.3 76.6,578.9 77.5,578.2 C78.4,577.5 78.9,573.3 80.1,572.2 C81.3,571.1 82.4,571.5 84.1,572.2 C85.8,572.9 87.4,575.3 89.3,576.1 C91.2,576.9 92.7,577.4 94.6,576.9 C96.5,576.4 97.9,575.0 99.8,573.5 C101.7,572.0 103.2,570.2 105.1,568.3 C107.0,566.4 108.5,565.8 110.4,563.0 C112.3,560.2 113.2,556.7 115.6,552.5 C118.0,548.3 120.2,543.4 123.5,539.4 C126.8,535.4 130.2,532.6 134.0,530.2 C137.8,527.8 140.3,527.1 144.5,526.3 C148.7,525.5 152.9,525.5 157.6,525.7 C162.3,525.9 166.7,526.6 170.8,527.6 C174.9,528.6 175.9,530.1 180.5,531.5 C185.1,532.9 191.1,534.0 196.3,535.4 C201.5,536.8 204.7,538.0 209.4,539.4 C214.1,540.8 218.7,542.1 222.5,543.3 C226.3,544.5 228.0,543.9 230.4,546.0 C232.8,548.1 234.0,551.3 235.7,555.1 C237.4,558.9 238.2,567.2 239.6,567.0 C241.0,566.8 242.4,556.6 243.6,553.8 C244.8,551.0 245.0,550.7 246.2,551.2 C247.4,551.7 248.7,554.5 250.1,556.4 C251.5,558.3 252.4,560.4 254.1,561.7 C255.8,563.0 257.4,563.1 259.3,563.8 C261.2,564.5 262.7,564.1 264.6,565.6 C266.5,567.1 267.9,569.8 269.8,572.2 C271.7,574.6 273.2,576.8 275.1,578.8 C277.0,580.8 278.5,582.5 280.4,583.5 C282.3,584.5 283.7,584.3 285.6,584.5 C287.5,584.7 289.0,585.1 290.9,584.5 C292.8,583.9 294.2,582.9 296.1,581.4 C298.0,579.9 299.7,579.4 301.4,576.1 C303.1,572.8 304.3,566.3 305.3,563.0 C306.3,559.7 306.5,557.3 307.2,557.8 C307.9,558.3 308.5,566.3 309.3,565.6 C310.1,564.9 311.0,556.2 311.9,553.8 C312.8,551.4 313.3,551.3 314.5,552.5 C315.7,553.7 317.0,557.3 318.4,560.4 C319.8,563.5 320.7,566.8 322.4,569.6 C324.1,572.4 325.7,574.2 327.6,576.1 C329.5,578.0 331.0,578.7 332.9,580.1 C334.8,581.5 336.8,584.2 338.2,584.0 C339.6,583.8 340.0,583.8 340.8,578.8 C341.6,573.8 342.5,560.4 342.9,556.4" fill="none" stroke="#333" stroke-width="1.5" stroke-linejoin="round" stroke-linecap="round"/>
<text x="60.4" y="299" font-family='"Liberation Serif", serif' font-size="14.5" font-weight="bold" font-style="normal" fill="#111" text-anchor="start" >(8)</text>
<text x="52.5" y="374" font-family='"Liberation Serif", serif' font-size="14.5" font-weight="bold" font-style="normal" fill="#111" text-anchor="start" >(7)</text>
<text x="51.2" y="444.3" font-family='"Liberation Serif", serif' font-size="14.5" font-weight="bold" font-style="normal" fill="#111" text-anchor="start" >(6)</text>
<text x="48.6" y="522.3" font-family='"Liberation Serif", serif' font-size="14.5" font-weight="bold" font-style="normal" fill="#111" text-anchor="start" >(3)</text>
<text x="107.7" y="294" font-family='"Liberation Serif", serif' font-size="11" font-weight="bold" font-style="normal" fill="#ff00ff" text-anchor="start" textLength="162" lengthAdjust="spacingAndGlyphs">CPTES/Bentonite clay/Chitosan</text>
<text x="109" y="374.5" font-family='"Liberation Serif", serif' font-size="13.5" font-weight="bold" font-style="normal" fill="#ff00ff" text-anchor="start" textLength="134" lengthAdjust="spacingAndGlyphs">Bentonite clay/Chitosan</text>
<text x="152.4" y="444" font-family='"Liberation Serif", serif' font-size="13.5" font-weight="bold" font-style="normal" fill="#ff00ff" text-anchor="start" textLength="50.4" lengthAdjust="spacingAndGlyphs">Chitosan</text>
<text x="136.6" y="520" font-family='"Liberation Serif", serif' font-size="13.5" font-weight="bold" font-style="normal" fill="#ff00ff" text-anchor="start" textLength="82.8" lengthAdjust="spacingAndGlyphs">Bentonite Clay</text>
<text transform="translate(136.8,342) rotate(90)" x="0" y="0" dominant-baseline="central" text-anchor="middle" font-family='"Liberation Serif", serif' font-size="11" font-weight="bold" font-style="italic" fill="#22228a" textLength="42" lengthAdjust="spacingAndGlyphs">2936 cm<tspan font-size="7" dy="-4">-1</tspan></text>
<text transform="translate(94.5,381.6) rotate(-90)" x="0" y="0" dominant-baseline="central" text-anchor="middle" font-family='"Liberation Serif", serif' font-size="11" font-weight="bold" font-style="italic" fill="#22228a" textLength="44.7" lengthAdjust="spacingAndGlyphs">3410 cm<tspan font-size="7" dy="-4">-1</tspan></text>
<text transform="translate(79.1,542) rotate(-90)" x="0" y="0" dominant-baseline="central" text-anchor="middle" font-family='"Liberation Serif", serif' font-size="11" font-weight="bold" font-style="italic" fill="#22228a" textLength="50" lengthAdjust="spacingAndGlyphs">3632 cm<tspan font-size="7" dy="-4">-1</tspan></text>
<text transform="translate(93.6,545.3) rotate(-90)" x="0" y="0" dominant-baseline="central" text-anchor="middle" font-family='"Liberation Serif", serif' font-size="11" font-weight="bold" font-style="italic" fill="#22228a" textLength="51" lengthAdjust="spacingAndGlyphs">3426 cm<tspan font-size="7" dy="-4">-1</tspan></text>
<text transform="translate(247.5,353) rotate(90)" x="0" y="0" dominant-baseline="central" text-anchor="middle" font-family='"Liberation Serif", serif' font-size="11" font-weight="bold" font-style="italic" fill="#22228a" textLength="43.4" lengthAdjust="spacingAndGlyphs">1577 cm<tspan font-size="7" dy="-4">-1</tspan></text>
<text transform="translate(288.9,315.5) rotate(-90)" x="0" y="0" dominant-baseline="central" text-anchor="middle" font-family='"Liberation Serif", serif' font-size="11" font-weight="bold" font-style="italic" fill="#22228a" textLength="50" lengthAdjust="spacingAndGlyphs">1080 cm<tspan font-size="7" dy="-4">-1</tspan></text>
<text transform="translate(311.8,343) rotate(90)" x="0" y="0" dominant-baseline="central" text-anchor="middle" font-family='"Liberation Serif", serif' font-size="11" font-weight="bold" font-style="italic" fill="#22228a" textLength="42" lengthAdjust="spacingAndGlyphs">780 cm<tspan font-size="7" dy="-4">-1</tspan></text>
<text transform="translate(238.3,420) rotate(90)" x="0" y="0" dominant-baseline="central" text-anchor="middle" font-family='"Liberation Serif", serif' font-size="11" font-weight="bold" font-style="italic" fill="#22228a" textLength="44" lengthAdjust="spacingAndGlyphs">1647 cm<tspan font-size="7" dy="-4">-1</tspan></text>
<text transform="translate(262,420) rotate(90)" x="0" y="0" dominant-baseline="central" text-anchor="middle" font-family='"Liberation Serif", serif' font-size="11" font-weight="bold" font-style="italic" fill="#22228a" textLength="44" lengthAdjust="spacingAndGlyphs">1420 cm<tspan font-size="7" dy="-4">-1</tspan></text>
<text transform="translate(323,414) rotate(90)" x="0" y="0" dominant-baseline="central" text-anchor="middle" font-family='"Liberation Serif", serif' font-size="11" font-weight="bold" font-style="italic" fill="#22228a" textLength="38" lengthAdjust="spacingAndGlyphs">619 cm<tspan font-size="7" dy="-4">-1</tspan></text>
<text transform="translate(241.6,505.7) rotate(90)" x="0" y="0" dominant-baseline="central" text-anchor="middle" font-family='"Liberation Serif", serif' font-size="11" font-weight="bold" font-style="italic" fill="#22228a" textLength="51.3" lengthAdjust="spacingAndGlyphs">1632 cm<tspan font-size="7" dy="-4">-1</tspan></text>
<text transform="translate(262.6,498) rotate(90)" x="0" y="0" dominant-baseline="central" text-anchor="middle" font-family='"Liberation Serif", serif' font-size="11" font-weight="bold" font-style="italic" fill="#22228a" textLength="51.2" lengthAdjust="spacingAndGlyphs">1384 cm<tspan font-size="7" dy="-4">-1</tspan></text>
<text x="218" y="582" font-family='"Liberation Serif", serif' font-size="12" font-weight="bold" font-style="italic" fill="#22228a" text-anchor="start" textLength="48" lengthAdjust="spacingAndGlyphs">1640 cm<tspan font-size="9" dy="-4.5">-1</tspan></text>
<text x="302.5" y="584.3" font-family='"Liberation Serif", serif' font-size="12" font-weight="bold" font-style="italic" fill="#22228a" text-anchor="start" textLength="41" lengthAdjust="spacingAndGlyphs">792 cm<tspan font-size="9" dy="-4.5">-1</tspan></text>
<rect x="377" y="287.7" width="281.4" height="306.59999999999997" fill="none" stroke="#222" stroke-width="1.6"/>
<path d="M377.0,594.3 v-4 M416.2,594.3 v-4 M455.3,594.3 v-4 M494.5,594.3 v-4 M533.6,594.3 v-4 M572.8,594.3 v-4 M612.0,594.3 v-4 M651.1,594.3 v-4" stroke="#222" stroke-width="1.4" fill="none"/>
<text x="377.0" y="606" font-family='"Liberation Serif", serif' font-size="11.5" font-weight="normal" font-style="normal" fill="#000" text-anchor="middle" textLength="22" lengthAdjust="spacingAndGlyphs">4000</text>
<text x="416.15999999999997" y="606" font-family='"Liberation Serif", serif' font-size="11.5" font-weight="normal" font-style="normal" fill="#000" text-anchor="middle" textLength="22" lengthAdjust="spacingAndGlyphs">3500</text>
<text x="455.32" y="606" font-family='"Liberation Serif", serif' font-size="11.5" font-weight="normal" font-style="normal" fill="#000" text-anchor="middle" textLength="22" lengthAdjust="spacingAndGlyphs">3000</text>
<text x="494.48" y="606" font-family='"Liberation Serif", serif' font-size="11.5" font-weight="normal" font-style="normal" fill="#000" text-anchor="middle" textLength="22" lengthAdjust="spacingAndGlyphs">2500</text>
<text x="533.64" y="606" font-family='"Liberation Serif", serif' font-size="11.5" font-weight="normal" font-style="normal" fill="#000" text-anchor="middle" textLength="22" lengthAdjust="spacingAndGlyphs">2000</text>
<text x="572.8" y="606" font-family='"Liberation Serif", serif' font-size="11.5" font-weight="normal" font-style="normal" fill="#000" text-anchor="middle" textLength="22" lengthAdjust="spacingAndGlyphs">1500</text>
<text x="611.96" y="606" font-family='"Liberation Serif", serif' font-size="11.5" font-weight="normal" font-style="normal" fill="#000" text-anchor="middle" textLength="22" lengthAdjust="spacingAndGlyphs">1000</text>
<text x="651.12" y="606" font-family='"Liberation Serif", serif' font-size="11.5" font-weight="normal" font-style="normal" fill="#000" text-anchor="middle" textLength="17" lengthAdjust="spacingAndGlyphs">500</text>
<text x="516.4" y="624" font-family='"Liberation Serif", serif' font-size="14" font-weight="bold" font-style="italic" fill="#000" text-anchor="middle" textLength="104" lengthAdjust="spacingAndGlyphs">Wavenumber (cm<tspan font-size="11" dy="-5">-1</tspan><tspan dy="5">)</tspan></text>
<text transform="translate(361,439.4) rotate(-90)" x="0" y="0" dominant-baseline="central" text-anchor="middle" font-family='"Liberation Serif", serif' font-size="14.5" font-weight="bold" font-style="italic" fill="#1a1a1a" textLength="127.5" lengthAdjust="spacingAndGlyphs">Transmittance T(%)</text>
<path d="M376.8,302.8 C379.2,305.4 385.4,311.9 389.9,317.3 C394.4,322.7 398.9,327.8 401.7,333.0 C404.5,338.2 404.0,341.9 405.7,346.2 C407.4,350.5 409.0,352.9 410.9,356.7 C412.8,360.5 414.3,364.6 416.2,367.2 C418.1,369.8 419.6,371.1 421.5,371.1 C423.4,371.1 424.3,369.8 426.7,367.2 C429.1,364.6 431.8,360.5 434.6,356.7 C437.4,352.9 440.1,349.3 442.5,346.2 C444.9,343.1 445.8,341.5 447.7,339.6 C449.6,337.7 451.3,335.2 453.0,335.7 C454.7,336.2 455.6,339.8 456.9,342.2 C458.2,344.6 459.1,349.0 460.3,348.8 C461.5,348.6 462.0,344.2 463.5,340.9 C465.0,337.6 466.3,333.2 468.7,330.4 C471.1,327.6 473.8,327.1 476.6,325.2 C479.4,323.3 481.2,321.6 484.5,319.9 C487.8,318.2 491.9,316.9 495.0,316.0 C498.1,315.1 499.9,314.5 501.6,314.7 C503.3,314.9 503.0,317.6 504.2,317.3 C505.4,317.0 506.6,314.3 508.2,313.3 C509.8,312.3 509.7,312.0 512.9,311.5 C516.1,311.0 521.3,311.1 526.0,310.7 C530.7,310.3 535.4,309.4 539.2,309.4 C543.0,309.4 544.6,309.7 547.0,310.7 C549.4,311.7 550.6,311.6 552.3,314.7 C554.0,317.8 555.0,323.1 556.2,327.8 C557.4,332.5 558.1,338.3 558.9,340.9 C559.7,343.5 559.8,343.6 560.7,342.2 C561.6,340.8 562.8,334.2 564.1,333.0 C565.4,331.8 566.7,334.5 568.1,335.7 C569.5,336.9 570.6,337.5 572.0,339.6 C573.4,341.7 574.5,347.3 575.9,347.5 C577.3,347.7 578.7,345.4 579.9,340.9 C581.1,336.4 581.3,327.2 582.5,322.5 C583.7,317.8 585.3,316.4 586.5,314.7 C587.7,313.0 587.9,312.8 589.1,313.3 C590.3,313.8 591.6,314.2 593.0,317.3 C594.4,320.4 595.3,323.3 597.0,330.4 C598.7,337.5 600.5,348.7 602.2,356.7 C603.9,364.7 605.0,370.6 606.2,375.1 C607.4,379.6 607.9,382.6 608.8,381.6 C609.7,380.6 610.5,377.6 611.4,369.8 C612.3,362.0 613.0,346.3 614.0,338.3 C615.0,330.3 615.5,328.7 616.7,325.2 C617.9,321.7 619.4,321.4 620.6,318.6 C621.8,315.8 622.2,312.0 623.2,309.4 C624.2,306.8 624.9,303.9 625.9,304.1 C626.9,304.3 627.3,309.7 628.5,310.7 C629.7,311.7 631.0,308.7 632.4,309.4 C633.8,310.1 635.0,312.3 636.4,314.7 C637.8,317.1 639.1,320.6 640.3,322.5 C641.5,324.4 641.9,325.0 642.9,325.2 C643.9,325.4 644.6,322.4 645.6,323.8 C646.6,325.2 647.3,329.9 648.2,333.0 C649.1,336.1 650.1,339.7 650.8,340.9 C651.5,342.1 651.5,336.8 652.1,339.6 C652.7,342.4 653.5,356.9 654.2,356.7 C654.9,356.5 655.4,343.3 656.1,338.3 C656.8,333.3 657.8,330.8 658.2,329.1" fill="none" stroke="#b04848" stroke-width="1.7" stroke-linejoin="round" stroke-linecap="round"/>
<path d="M377.0,400.5 C380.7,410.3 393.3,444.9 397.4,454.9 C401.4,464.9 398.7,456.6 399.5,456.3 C400.3,456.0 400.9,453.4 401.7,453.4 C402.5,453.4 403.0,455.1 403.8,456.3 C404.6,457.5 404.7,457.7 405.9,459.8 C407.1,461.9 408.1,465.0 410.2,467.7 C412.3,470.4 415.0,472.5 417.3,474.8 C419.6,477.1 421.2,479.5 423.0,480.5 C424.8,481.5 425.0,480.4 427.3,480.1 C429.6,479.8 432.8,479.8 436.0,479.1 C439.2,478.4 442.0,477.7 445.1,476.2 C448.2,474.7 450.9,472.1 453.0,470.9 C455.1,469.7 455.5,468.9 456.9,469.6 C458.3,470.3 459.5,475.4 460.9,474.9 C462.3,474.4 463.4,468.9 464.8,467.0 C466.2,465.1 466.6,465.8 468.7,464.4 C470.8,463.0 473.3,460.8 476.6,459.1 C479.9,457.4 483.3,456.4 487.1,455.2 C490.9,454.0 495.0,453.1 497.6,452.5 C500.2,451.9 500.4,450.1 501.6,452.0 C502.8,453.9 503.0,462.9 504.2,463.0 C505.4,463.1 506.5,455.1 508.2,452.5 C509.9,449.9 511.1,449.8 513.4,448.6 C515.7,447.4 517.6,447.2 520.8,446.0 C524.0,444.8 527.1,443.7 531.3,442.0 C535.5,440.3 540.9,438.4 544.4,436.8 C547.9,435.2 549.2,433.8 550.9,433.3 C552.6,432.8 552.9,432.3 553.7,434.2 C554.5,436.1 554.7,442.0 555.6,443.7 C556.5,445.4 557.5,442.8 558.5,443.7 C559.5,444.6 560.2,444.1 561.3,448.5 C562.4,452.9 563.7,466.7 564.7,468.4 C565.7,470.1 566.2,460.9 567.0,458.0 C567.8,455.1 568.2,453.2 568.9,452.3 C569.6,451.4 570.1,450.8 570.8,453.2 C571.5,455.6 572.0,464.8 572.7,465.5 C573.4,466.2 573.9,458.9 574.6,457.0 C575.3,455.1 575.8,454.8 576.5,455.1 C577.2,455.4 577.7,459.1 578.4,458.9 C579.1,458.7 579.6,454.9 580.3,454.2 C581.0,453.5 581.5,453.9 582.2,455.1 C582.9,456.3 583.4,460.5 584.1,460.8 C584.8,461.1 585.3,458.2 586.0,457.0 C586.7,455.8 587.2,453.7 587.9,454.2 C588.6,454.7 589.2,456.7 589.8,459.8 C590.4,462.9 590.4,469.0 591.1,471.2 C591.8,473.4 592.8,473.0 593.6,472.2 C594.4,471.4 594.9,467.7 595.5,466.5 C596.1,465.3 596.3,464.0 596.8,465.5 C597.3,467.0 597.8,475.0 598.3,475.0 C598.8,475.0 599.5,468.2 599.8,465.5 C600.1,462.8 599.6,461.0 600.2,459.8 C600.8,458.6 602.2,458.8 603.1,458.9 C604.0,459.0 604.3,460.9 605.0,460.2 C605.7,459.5 606.2,456.7 606.9,455.1 C607.6,453.5 608.0,450.8 608.7,451.3 C609.4,451.8 610.0,456.3 610.6,458.0 C611.2,459.7 611.5,462.0 612.2,460.8 C612.9,459.6 613.3,454.9 614.4,451.3 C615.5,447.7 617.0,442.4 618.2,440.9 C619.4,439.4 620.1,441.3 621.1,442.8 C622.1,444.3 623.1,446.7 623.9,449.4 C624.7,452.1 625.1,455.3 625.8,458.0 C626.5,460.7 627.0,464.6 627.7,464.6 C628.4,464.6 628.7,459.9 629.6,458.0 C630.5,456.1 631.5,454.5 632.5,454.2 C633.5,453.9 634.3,456.1 635.3,456.1 C636.3,456.1 637.0,454.7 638.2,454.2 C639.4,453.7 640.8,454.2 642.0,453.2 C643.2,452.2 644.0,448.8 644.8,448.5 C645.6,448.2 646.0,450.5 646.7,451.3 C647.4,452.1 647.8,453.2 648.6,453.2 C649.4,453.2 650.4,452.5 651.4,451.3 C652.4,450.1 653.4,449.2 654.3,446.6 C655.2,444.0 655.5,441.2 656.2,437.1 C656.9,433.0 657.8,426.2 658.1,423.8" fill="none" stroke="#4040ff" stroke-width="1.8" stroke-linejoin="round" stroke-linecap="round"/>
<path d="M376.8,504.7 C378.7,506.2 382.8,509.2 387.3,513.1 C391.8,517.0 398.6,521.6 401.7,526.3 C404.8,531.0 403.2,536.8 404.4,539.4 C405.6,542.0 406.9,539.5 408.3,540.7 C409.7,541.9 410.4,543.8 412.3,546.0 C414.2,548.2 416.6,551.5 418.8,553.2 C421.0,554.9 422.2,555.6 424.3,555.2 C426.4,554.8 428.0,553.6 430.3,551.2 C432.6,548.8 434.5,545.3 437.2,542.0 C439.9,538.7 442.3,535.2 445.1,532.8 C447.9,530.4 450.9,528.4 453.0,528.4 C455.1,528.4 455.6,531.5 456.9,532.8 C458.2,534.1 458.9,535.6 460.3,535.4 C461.7,535.2 463.3,533.9 464.8,531.5 C466.3,529.1 466.6,525.1 468.7,522.3 C470.8,519.5 473.3,517.9 476.6,515.8 C479.9,513.7 483.3,512.0 487.1,510.5 C490.9,509.0 494.5,507.9 497.6,507.4 C500.7,506.9 502.3,508.2 504.2,507.9 C506.1,507.6 505.7,506.4 508.2,505.8 C510.7,505.2 513.9,504.9 518.1,504.7 C522.3,504.5 526.6,504.4 531.3,504.7 C536.0,505.0 540.9,505.8 544.4,506.6 C547.9,507.4 549.1,506.1 551.0,509.2 C552.9,512.3 553.5,518.6 554.9,523.6 C556.3,528.6 557.5,533.7 558.9,536.8 C560.3,539.9 561.3,539.1 562.8,540.7 C564.3,542.3 566.1,547.6 567.5,545.9 C568.9,544.2 569.7,535.0 570.7,531.5 C571.7,528.0 572.0,525.8 572.8,526.3 C573.6,526.8 574.4,531.3 575.4,534.1 C576.4,536.9 577.6,541.8 578.6,542.0 C579.6,542.2 580.0,537.3 581.2,535.4 C582.4,533.5 583.7,531.7 585.1,531.5 C586.5,531.3 587.4,532.0 589.1,534.1 C590.8,536.2 592.6,539.0 594.3,543.3 C596.0,547.6 596.9,552.8 598.3,557.8 C599.7,562.8 600.8,567.1 602.2,570.9 C603.6,574.7 604.9,576.8 606.2,578.8 C607.5,580.8 608.4,582.4 609.6,581.9 C610.8,581.4 611.7,580.0 612.7,576.1 C613.7,572.2 614.4,566.1 615.4,560.4 C616.4,554.7 616.8,549.3 618.0,544.6 C619.2,539.9 620.7,537.9 621.9,534.1 C623.1,530.3 623.5,525.5 624.5,523.6 C625.5,521.7 626.2,522.4 627.2,523.6 C628.2,524.8 628.7,530.0 629.8,530.2 C630.9,530.4 632.0,525.9 633.2,524.9 C634.4,523.9 635.4,524.4 636.4,524.9 C637.4,525.4 638.1,526.4 639.0,527.6 C639.9,528.8 640.4,530.6 641.6,531.5 C642.8,532.4 644.3,530.2 645.6,532.8 C646.9,535.4 647.9,544.0 649.0,545.9 C650.1,547.8 650.7,540.9 651.6,543.3 C652.5,545.7 653.4,557.4 654.2,559.1 C655.0,560.8 655.4,558.4 656.1,552.5 C656.8,546.6 657.7,531.0 658.0,526.3" fill="none" stroke="#a858f8" stroke-width="1.8" stroke-linejoin="round" stroke-linecap="round"/>
<text x="380.7" y="304.3" font-family='"Liberation Serif", serif' font-size="14.5" font-weight="bold" font-style="normal" fill="#111" text-anchor="start" >(9)</text>
<text x="383.4" y="406.8" font-family='"Liberation Serif", serif' font-size="14.5" font-weight="bold" font-style="normal" fill="#111" text-anchor="start" >(2)</text>
<text x="379.4" y="500" font-family='"Liberation Serif", serif' font-size="14.5" font-weight="bold" font-style="normal" fill="#111" text-anchor="start" >(8)</text>
<text x="411" y="299.8" font-family='"Liberation Serif", serif' font-size="12" font-weight="bold" font-style="normal" fill="#ff00ff" text-anchor="start" textLength="205.7" lengthAdjust="spacingAndGlyphs"><tspan font-size="10.5">[C<tspan font-size="7">o</tspan>(II) T<tspan font-size="6">P-OH</tspan>PP]</tspan>-CPTES/Bent/Cs<tspan font-size="9.5"> 3 Composite</tspan></text>
<text x="442.5" y="430" font-family='"Liberation Serif", serif' font-size="13" font-weight="bold" font-style="italic" fill="#ff00ff" text-anchor="start" textLength="96.7" lengthAdjust="spacingAndGlyphs">[C<tspan font-size="9">o</tspan>(II) T<tspan font-size="9">P-OH</tspan>PP]</text>
<text x="399.1" y="500.5" font-family='"Liberation Serif", serif' font-size="11.5" font-weight="bold" font-style="normal" fill="#ff00ff" text-anchor="start" textLength="154.5" lengthAdjust="spacingAndGlyphs">CPTES/Bentonite clay/Chitosan</text>
<text transform="translate(421.4,343) rotate(-90)" x="0" y="0" dominant-baseline="central" text-anchor="middle" font-family='"Liberation Serif", serif' font-size="10" font-weight="bold" font-style="italic" fill="#22228a" textLength="46" lengthAdjust="spacingAndGlyphs">3426 cm<tspan font-size="6" dy="-3">-1</tspan></text>
<text transform="translate(460.8,375) rotate(90)" x="0" y="0" dominant-baseline="central" text-anchor="middle" font-family='"Liberation Serif", serif' font-size="10" font-weight="bold" font-style="italic" fill="#22228a" textLength="44.6" lengthAdjust="spacingAndGlyphs">2924 cm<tspan font-size="6" dy="-3">-1</tspan></text>
<text transform="translate(560.1,368.5) rotate(90)" x="0" y="0" dominant-baseline="central" text-anchor="middle" font-family='"Liberation Serif", serif' font-size="10" font-weight="bold" font-style="italic" fill="#22228a" textLength="44.6" lengthAdjust="spacingAndGlyphs">1664 cm<tspan font-size="6" dy="-3">-1</tspan></text>
<text transform="translate(578.5,373.7) rotate(90)" x="0" y="0" dominant-baseline="central" text-anchor="middle" font-family='"Liberation Serif", serif' font-size="10" font-weight="bold" font-style="italic" fill="#22228a" textLength="44.6" lengthAdjust="spacingAndGlyphs">1442 cm<tspan font-size="6" dy="-3">-1</tspan></text>
<text transform="translate(607.4,333.7) rotate(-90)" x="0" y="0" dominant-baseline="central" text-anchor="middle" font-family='"Liberation Serif", serif' font-size="10" font-weight="bold" font-style="italic" fill="#22228a" textLength="48.6" lengthAdjust="spacingAndGlyphs">1047 cm<tspan font-size="6" dy="-3">-1</tspan></text>
<text transform="translate(564.1,493.2) rotate(90)" x="0" y="0" dominant-baseline="central" text-anchor="middle" font-family='"Liberation Serif", serif' font-size="10" font-weight="bold" font-style="italic" fill="#22228a" textLength="44.7" lengthAdjust="spacingAndGlyphs">1600 cm<tspan font-size="6" dy="-3">-1</tspan></text>
<text transform="translate(574.6,488.6) rotate(90)" x="0" y="0" dominant-baseline="central" text-anchor="middle" font-family='"Liberation Serif", serif' font-size="10" font-weight="bold" font-style="italic" fill="#22228a" textLength="43.3" lengthAdjust="spacingAndGlyphs">1510 cm<tspan font-size="6" dy="-3">-1</tspan></text>
<text transform="translate(595,497.8) rotate(90)" x="0" y="0" dominant-baseline="central" text-anchor="middle" font-family='"Liberation Serif", serif' font-size="10" font-weight="bold" font-style="italic" fill="#22228a" textLength="43.3" lengthAdjust="spacingAndGlyphs">1340 cm<tspan font-size="6" dy="-3">-1</tspan></text>
<text transform="translate(627.8,489.3) rotate(90)" x="0" y="0" dominant-baseline="central" text-anchor="middle" font-family='"Liberation Serif", serif' font-size="10" font-weight="bold" font-style="italic" fill="#22228a" textLength="42" lengthAdjust="spacingAndGlyphs">800 cm<tspan font-size="6" dy="-3">-1</tspan></text>
<text transform="translate(650.2,478.8) rotate(90)" x="0" y="0" dominant-baseline="central" text-anchor="middle" font-family='"Liberation Serif", serif' font-size="10" font-weight="bold" font-style="italic" fill="#22228a" textLength="44.7" lengthAdjust="spacingAndGlyphs">526 cm<tspan font-size="6" dy="-3">-1</tspan></text>
<text transform="translate(424,525.4) rotate(-90)" x="0" y="0" dominant-baseline="central" text-anchor="middle" font-family='"Liberation Serif", serif' font-size="10" font-weight="bold" font-style="italic" fill="#22228a" textLength="43.3" lengthAdjust="spacingAndGlyphs">3410 cm<tspan font-size="6" dy="-3">-1</tspan></text>
<text transform="translate(460.8,558.4) rotate(90)" x="0" y="0" dominant-baseline="central" text-anchor="middle" font-family='"Liberation Serif", serif' font-size="10" font-weight="bold" font-style="italic" fill="#22228a" textLength="43.3" lengthAdjust="spacingAndGlyphs">2936 cm<tspan font-size="6" dy="-3">-1</tspan></text>
<text transform="translate(566.1,570.2) rotate(90)" x="0" y="0" dominant-baseline="central" text-anchor="middle" font-family='"Liberation Serif", serif' font-size="10" font-weight="bold" font-style="italic" fill="#22228a" textLength="45.9" lengthAdjust="spacingAndGlyphs">1577 cm<tspan font-size="6" dy="-3">-1</tspan></text>
<text transform="translate(581.9,566.3) rotate(90)" x="0" y="0" dominant-baseline="central" text-anchor="middle" font-family='"Liberation Serif", serif' font-size="10" font-weight="bold" font-style="italic" fill="#22228a" textLength="40.6" lengthAdjust="spacingAndGlyphs">1427 cm<tspan font-size="6" dy="-3">-1</tspan></text>
<text transform="translate(606.5,543.5) rotate(-90)" x="0" y="0" dominant-baseline="central" text-anchor="middle" font-family='"Liberation Serif", serif' font-size="10" font-weight="bold" font-style="italic" fill="#22228a" textLength="49" lengthAdjust="spacingAndGlyphs">1080 cm<tspan font-size="6" dy="-3">-1</tspan></text>
<text transform="translate(632,558.5) rotate(90)" x="0" y="0" dominant-baseline="central" text-anchor="middle" font-family='"Liberation Serif", serif' font-size="10" font-weight="bold" font-style="italic" fill="#22228a" textLength="42" lengthAdjust="spacingAndGlyphs">780 cm<tspan font-size="6" dy="-3">-1</tspan></text>
</svg>
</body></html>
